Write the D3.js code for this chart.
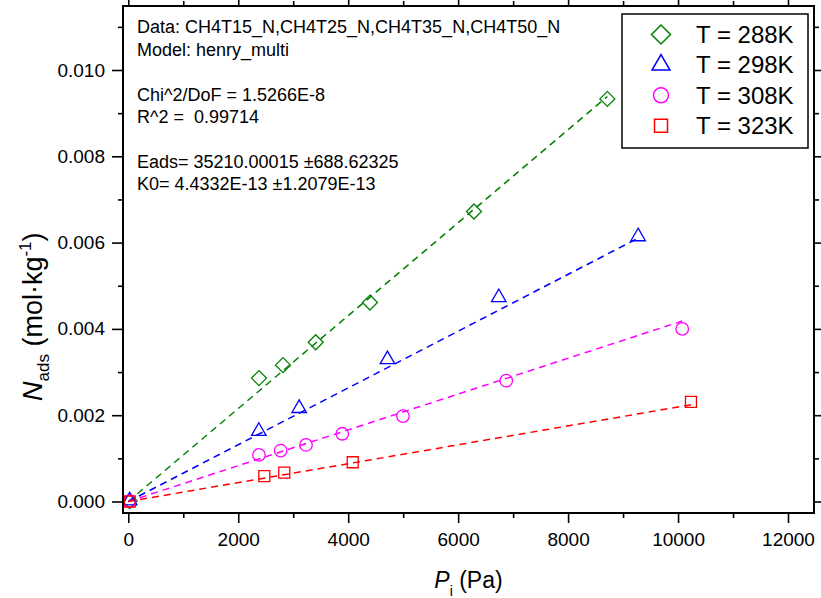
<!DOCTYPE html>
<html>
<head>
<meta charset="utf-8">
<script src="https://cdn.jsdelivr.net/npm/d3@7"></script>
<style>
  html, body { margin: 0; padding: 0; background: #fff; }
  svg { display: block; font-family: "Liberation Sans", Arial, sans-serif; }
</style>
</head>
<body>
<svg id="chart" width="821" height="598"></svg>
<script>
// ---------------- data ----------------
const seriesNames = ["T = 288K", "T = 298K", "T = 308K", "T = 323K"];
const seriesColors = ["#008000", "#0000ff", "#ff00ff", "#ff0000"];
const seriesSymbols = ["diamond", "triangle", "circle", "square"];

const p288 = [25, 2377, 2814, 3409, 4396, 6288, 8714];
const n288 = [0.00001, 0.00286, 0.00316, 0.00369, 0.00461, 0.00672, 0.00933];

const p298 = [25, 2374, 3108, 4714, 6739, 9274];
const n298 = [0.00002, 0.00163, 0.00216, 0.00329, 0.00473, 0.00614];

const p308 = [25, 2377, 2772, 3232, 3892, 4996, 6875, 10076];
const n308 = [0.00001, 0.00108, 0.00118, 0.00131, 0.00157, 0.00198, 0.00280, 0.00400];

const p323 = [25, 2474, 2837, 4082, 10235];
const n323 = [0.0, 0.00059, 0.00067, 0.00091, 0.00231];

// Henry-law fit slopes (mol·kg^-1·Pa^-1)
const fitSlopes = [1.077e-6, 6.58e-7, 4.15e-7, 2.19e-7];

const xMajorTicks = [0, 2000, 4000, 6000, 8000, 10000, 12000];
const xMinorTicks = [1000, 3000, 5000, 7000, 9000, 11000];
const yMajorTicks = [0, 0.002, 0.004, 0.006, 0.008, 0.010];
const yMinorTicks = [0.001, 0.003, 0.005, 0.007, 0.009, 0.011];

const annotationLines = [
  "Data: CH4T15_N,CH4T25_N,CH4T35_N,CH4T50_N",
  "Model: henry_multi",
  "",
  "Chi^2/DoF = 1.5266E-8",
  "R^2 =  0.99714",
  "",
  "Eads= 35210.00015 \u00b1688.62325",
  "K0= 4.4332E-13 \u00b11.2079E-13"
];

const seriesP = [p288, p298, p308, p323];
const seriesN = [n288, n298, n308, n323];

// ---------------- layout ----------------
const frame = { left: 123, right: 814, top: 6, bottom: 513 };
const svg = d3.select("#chart");

const x = d3.scaleLinear().domain([0, 12000]).range([128.3, 788]);
const y = d3.scaleLinear().domain([0, 0.010]).range([501.5, 70]);

const font = '"Liberation Sans", Arial, sans-serif';

svg.append("defs").append("clipPath").attr("id", "plotclip")
  .append("rect")
  .attr("x", frame.left).attr("y", frame.top)
  .attr("width", frame.right - frame.left).attr("height", frame.bottom - frame.top);

// ---------------- axes ----------------
function styleAxis(g) {
  g.select(".domain").remove();
  g.selectAll(".tick line").attr("stroke", "#000").attr("stroke-width", 1.6);
  g.selectAll(".tick text").attr("fill", "#000")
    .style("font-family", font).style("font-size", "19px");
}

svg.append("g").attr("transform", `translate(0,${frame.bottom})`)
  .call(d3.axisBottom(x).tickValues(xMajorTicks).tickSize(10).tickPadding(10).tickFormat(d3.format("d")))
  .call(styleAxis);
svg.append("g").attr("transform", `translate(0,${frame.bottom})`)
  .call(d3.axisBottom(x).tickValues(xMinorTicks).tickSize(5).tickFormat(""))
  .call(styleAxis);
svg.append("g").attr("transform", `translate(0,${frame.top})`)
  .call(d3.axisTop(x).tickValues(xMajorTicks).tickSize(10).tickFormat(""))
  .call(styleAxis);
svg.append("g").attr("transform", `translate(0,${frame.top})`)
  .call(d3.axisTop(x).tickValues(xMinorTicks).tickSize(5).tickFormat(""))
  .call(styleAxis);
svg.append("g").attr("transform", `translate(${frame.left},0)`)
  .call(d3.axisLeft(y).tickValues(yMajorTicks).tickSize(11).tickPadding(7).tickFormat(d3.format(".3f")))
  .call(styleAxis);
svg.append("g").attr("transform", `translate(${frame.left},0)`)
  .call(d3.axisLeft(y).tickValues(yMinorTicks).tickSize(5).tickFormat(""))
  .call(styleAxis);
svg.append("g").attr("transform", `translate(${frame.right},0)`)
  .call(d3.axisRight(y).tickValues(yMajorTicks).tickSize(10).tickFormat(""))
  .call(styleAxis);
svg.append("g").attr("transform", `translate(${frame.right},0)`)
  .call(d3.axisRight(y).tickValues(yMinorTicks).tickSize(5).tickFormat(""))
  .call(styleAxis);

// ---------------- symbols ----------------
function symbolPath(type, s) {
  if (type === "diamond") {
    const h = s / 2;
    return `M0,${-h}L${h},0L0,${h}L${-h},0Z`;
  }
  if (type === "triangle") {
    return d3.symbol(d3.symbolTriangle, Math.sqrt(3) / 4 * s * s)();
  }
  if (type === "circle") {
    return d3.symbol(d3.symbolCircle, Math.PI * (s / 2) * (s / 2))();
  }
  return d3.symbol(d3.symbolSquare, s * s)();
}
const plotSizes = { diamond: 15, triangle: 14.5, circle: 12.5, square: 11 };
const legendSizes = { diamond: 19, triangle: 18, circle: 15, square: 13 };

// ---------------- fit lines & points ----------------
const plot = svg.append("g").attr("clip-path", "url(#plotclip)");

seriesP.forEach((ps, i) => {
  const pMax = d3.max(ps);
  const lineData = [[0, 0], [pMax, fitSlopes[i] * pMax]];
  plot.append("path")
    .datum(lineData)
    .attr("fill", "none")
    .attr("stroke", seriesColors[i])
    .attr("stroke-width", 1.5)
    .attr("stroke-dasharray", "7,5")
    .attr("d", d3.line().x(d => x(d[0])).y(d => y(d[1])));
});

seriesP.forEach((ps, i) => {
  const pts = ps.map((p, k) => [p, seriesN[i][k]]);
  plot.append("g").selectAll("path")
    .data(pts)
    .join("path")
    .attr("transform", d => `translate(${x(d[0])},${y(d[1])})`)
    .attr("d", symbolPath(seriesSymbols[i], plotSizes[seriesSymbols[i]]))
    .attr("fill", "none")
    .attr("stroke", seriesColors[i])
    .attr("stroke-width", 1.3);
});

// ---------------- frame ----------------
svg.append("rect")
  .attr("x", frame.left).attr("y", frame.top)
  .attr("width", frame.right - frame.left).attr("height", frame.bottom - frame.top)
  .attr("fill", "none").attr("stroke", "#000").attr("stroke-width", 2);

// ---------------- annotation ----------------
const ann = svg.append("g").style("font-family", font).style("font-size", "18px")
  .style("white-space", "pre").attr("fill", "#000");
const annBaselines = [33, 55.5, 78, 100.5, 123, 145.5, 167.5, 190];
annotationLines.forEach((t, i) => {
  if (!t) return;
  ann.append("text").attr("x", 137).attr("y", annBaselines[i])
    .attr("xml:space", "preserve").style("white-space", "pre").text(t);
});

// ---------------- legend ----------------
const legend = svg.append("g");
legend.append("rect")
  .attr("x", 622).attr("y", 14).attr("width", 186).attr("height", 134)
  .attr("fill", "#fff").attr("stroke", "#000").attr("stroke-width", 1.5);
seriesNames.forEach((name, i) => {
  const cy = 34.5 + i * 30.4;
  legend.append("path")
    .attr("transform", `translate(661,${cy})`)
    .attr("d", symbolPath(seriesSymbols[i], legendSizes[seriesSymbols[i]]))
    .attr("fill", "none")
    .attr("stroke", seriesColors[i])
    .attr("stroke-width", 1.5);
  legend.append("text")
    .attr("x", 696).attr("y", cy + 8.5)
    .style("font-family", font).style("font-size", "24px")
    .attr("fill", "#000")
    .text(name);
});

// ---------------- axis titles ----------------
const xTitle = svg.append("text")
  .attr("x", (frame.left + frame.right) / 2).attr("y", 588)
  .attr("text-anchor", "middle")
  .style("font-family", font).style("font-size", "23px").attr("fill", "#000");
xTitle.append("tspan").style("font-style", "italic").text("P");
xTitle.append("tspan").attr("dy", 8).style("font-size", "14px").text("i");
xTitle.append("tspan").attr("dy", -8).text(" (Pa)");

const yTitle = svg.append("text")
  .attr("transform", `translate(42,401) rotate(-90)`)
  .attr("text-anchor", "start")
  .style("font-family", font).style("font-size", "27px").attr("fill", "#000");
yTitle.append("tspan").style("font-style", "italic").text("N");
yTitle.append("tspan").attr("dy", 7).style("font-size", "17px").text("ads");
yTitle.append("tspan").attr("dy", -7).text(" (mol\u00b7kg");
yTitle.append("tspan").attr("dy", -11).style("font-size", "17px").text("-1");
yTitle.append("tspan").attr("dy", 11).text(")");
</script>
</body>
</html>
